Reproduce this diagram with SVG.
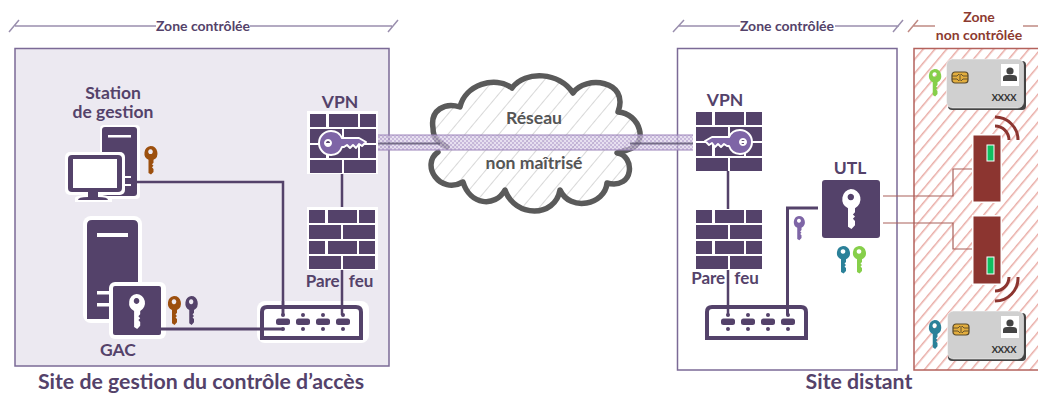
<svg xmlns="http://www.w3.org/2000/svg" width="1038" height="394" viewBox="0 0 1038 394">
<style>
text{font-family:"Lato","Open Sans","Liberation Sans",sans-serif;font-weight:700;text-anchor:middle}
.p{fill:#54426a}
.t16{font-size:17.500px;fill:#54426a}
.pf{font-size:17px;fill:#54426a;word-spacing:5px}
.t13{font-size:14px;fill:#54426a}
.t19{font-size:21.300px;fill:#54426a}
.r13{font-size:14px;fill:#8c3a30}
.g16{font-size:17.600px;fill:#555}
.zl{stroke:#9a8fae;stroke-width:1.500;fill:none}
.zr{stroke:#c08a84;stroke-width:1.500;fill:none}
.conn{stroke:#54426a;stroke-width:2.500;fill:none}
.thick{stroke:#54426a;stroke-width:3;fill:none}
.red{stroke:#a9605a;stroke-width:1.200;fill:none}
.arc{stroke:#8c3530;stroke-width:3;fill:none}
.card{font-size:9.500px;font-weight:400;fill:#222;stroke:#222;stroke-width:.2}
.brown{fill:#9c4f0e}.dk{fill:#54426a}.lav{fill:#7e65a6}.teal{fill:#2b8199}.green{fill:#86cf4a}
</style>
<defs>
<path id="key" fill-rule="evenodd" d="M7 0A7 7 0 0 1 10 13.300V16L8.500 17.500 10 19 8.500 20.500 10 22V25L7.500 27.500 5 26V13.300A7 7 0 0 1 7 0ZM7 3.200a2.300 2.300 0 1 0 .01 0Z"/>
<path id="hkey" fill="#7e65a6" stroke="#fff" stroke-width="2" stroke-linejoin="round" fill-rule="evenodd" d="M0-12A12 12 0 0 1 11-5H28L35-1 31 3 28 1 25 5 22 2 19 5 16 2 13 4H11A12 12 0 0 1 0 12 12 12 0 0 1 0-12ZM-3-3a3 3 0 1 0 .01 0Z"/>
<pattern id="hatchR" width="9" height="9" patternUnits="userSpaceOnUse" patternTransform="rotate(-50)"><rect width="9" height="9" fill="#fff"/><rect width="9" height="1.500" fill="#e9aca6"/></pattern>
<pattern id="hatchG" width="13" height="13" patternUnits="userSpaceOnUse" patternTransform="rotate(-50)"><rect width="13" height="13" fill="#fff"/><rect width="13" height="1" fill="#d8d8d8"/></pattern>
<pattern id="dots" width="4" height="4" patternUnits="userSpaceOnUse"><rect width="4" height="4" fill="#b09bcb"/><circle cx="1" cy="1" r="1" fill="#ece6f3"/><circle cx="3" cy="3" r="1" fill="#ece6f3"/></pattern>
<g id="router"><path d="M2 33V7Q2 2 7 2H96Q101 2 101 7V33Z" fill="#fff" stroke="#54426a" stroke-width="4"/>
<g class="p"><rect x="16" y="13.500" width="14" height="6.500" rx="2.500"/><rect x="36" y="13.500" width="14" height="6.500" rx="2.500"/><rect x="56" y="13.500" width="14" height="6.500" rx="2.500"/><rect x="76" y="13.500" width="14" height="6.500" rx="2.500"/>
<circle cx="23" cy="10" r="2"/><circle cx="43" cy="10" r="2"/><circle cx="63" cy="10" r="2"/><circle cx="83" cy="10" r="2"/><circle cx="23" cy="24" r="2"/><circle cx="43" cy="24" r="2"/><circle cx="63" cy="24" r="2"/><circle cx="83" cy="24" r="2"/></g></g>
<g id="wall" class="p"><rect x="0" y="0" width="16" height="13"/><rect x="19" y="0" width="29" height="13"/><rect x="50" y="0" width="16" height="13"/><rect x="0" y="15" width="32" height="14"/><rect x="34" y="15" width="32" height="14"/><rect x="0" y="31" width="16" height="13"/><rect x="19" y="31" width="29" height="13"/><rect x="50" y="31" width="16" height="13"/><rect x="0" y="46" width="32" height="13"/><rect x="34" y="46" width="32" height="13"/></g>
<g id="user" fill="#444"><circle cx="0" cy="-4" r="3.600"/><path d="M-7 6V3Q-7 0-3 0H3Q7 0 7 3V6Z"/></g>
<g id="chip"><rect width="16" height="11" rx="3" fill="#e3ae3e" stroke="#5a4a2a" stroke-width="1.200"/><path d="M0 4H5L7 2M0 7H5L7 9M16 4H11L9 2M16 7H11L9 9M8 2V9" stroke="#5a4a2a" stroke-width=".9" fill="none"/></g>
</defs>

<g id="zones">
<rect x="15" y="48.500" width="374" height="317.500" fill="#ece9f1" stroke="#7b6a96" stroke-width="1.500"/>
<rect x="677.500" y="48.500" width="219.500" height="321.500" fill="#fff" stroke="#7b6a96" stroke-width="1.500"/>
<rect x="914" y="48.500" width="130" height="321.500" fill="url(#hatchR)" stroke="#b4625c" stroke-width="1.500"/>
<path class="zl" d="M9 32 19 20M15 26H156M250 26H392M388 32 398 20"/>
<path class="zl" d="M673 32 684 20M678 26H740M835 26H899M893 32 903 20"/>
<path class="zr" d="M908 32 918 20M913 26H935M1023 26H1038"/>
<text class="t13" x="203" y="31">Zone contrôlée</text>
<text class="t13" x="787" y="31">Zone contrôlée</text>
<text class="r13" x="979" y="22">Zone</text>
<text class="r13" x="979" y="40">non contrôlée</text>
<text class="t19" x="201" y="389">Site de gestion du contrôle d’accès</text>
<text class="t19" x="859" y="389">Site distant</text>
</g>

<g id="cloud">
<path fill="url(#hatchG)" stroke="#5a5a5a" stroke-width="5.500" stroke-linejoin="round" stroke-linecap="round" d="M447 147C440 143 433 140 433 128 430 110 445 102 460 107 465 85 495 75 512 88 525 70 560 72 573 93 585 75 630 80 618 112 640 113 650 145 627 150L617 153C635 155 635 190 607 183 605 205 570 212 560 190 555 218 515 218 505 190 495 208 470 205 463 182 440 195 420 165 438 152"/>
<text class="g16" x="534" y="124">Réseau</text>
<text class="g16" x="534" y="169">non maîtrisé</text>
</g>

<g id="connectors">
<path class="conn" d="M342 174V207M342 270V315"/>
<path class="conn" d="M728 171V209M728 270V315"/>
<path class="thick" d="M818 208H787.500V315"/>
<path class="red" d="M883 196H953V169H973"/>
<path class="red" d="M883 223H953V249H973"/>
<g id="tunnel">
<rect x="378" y="135" width="315" height="15" fill="url(#dots)" opacity=".7"/>
<path d="M378 135H693M378 150H693" stroke="#9a82b8" stroke-width="1"/>
<path d="M378 143.500H440M630 143.500H693" stroke="#5d5670" stroke-width="2" opacity=".8"/>
</g>
</g>

<g id="station">
<text class="t16" x="113" y="99">Station</text>
<text class="t16" x="113" y="118">de gestion</text>
<rect x="100" y="125" width="40" height="74" rx="4" fill="#fff"/>
<rect x="102" y="127" width="35" height="69" rx="3" class="p"/>
<rect x="108" y="135" width="23" height="2.500" fill="#fff"/>
<rect x="123" y="176" width="8" height="2" fill="#fff"/><rect x="123" y="184" width="8" height="2" fill="#fff"/>
<rect x="65" y="152" width="60" height="43" rx="5" fill="#fff"/>
<rect x="68" y="155" width="54" height="37" rx="4" class="p"/>
<rect x="73" y="159" width="44" height="29" fill="#fff"/>
<path d="M75 202V198Q75 196 85 195V193H100V195Q112 196 112 198V202Z" fill="#fff"/>
<path class="p" d="M78 200Q78 197 88 197V192H98V197Q108 197 108 200Z"/>
<use href="#key" class="brown" transform="translate(143.500 146) scale(1 1.040)"/>
</g>

<g id="gac">
<rect x="83" y="216" width="59" height="107" rx="8" fill="#fff"/>
<path class="p" d="M87 319V225Q87 220 92 220H133Q138 220 138 225V319Z"/>
<rect x="97" y="233" width="31" height="4" fill="#fff"/>
<rect x="97" y="291" width="12" height="3.500" fill="#fff"/><rect x="97" y="303" width="12" height="3.500" fill="#fff"/>
<rect x="109" y="282" width="57" height="57" rx="6" fill="#fff"/>
<rect x="113" y="286" width="48" height="49" rx="2" class="p"/>
<use href="#key" fill="#fff" transform="translate(128 294) scale(1.220 1.270)"/>
<use href="#key" class="brown" transform="translate(167 296) scale(1 1.050)"/>
<use href="#key" class="dk" transform="translate(184.500 296) scale(.95 1.050)"/>
<text class="t16" x="118" y="356">GAC</text>
</g>

<g id="vpn-left">
<rect x="307" y="111" width="71" height="63" fill="#fff"/>
<use href="#wall" transform="translate(310 114)"/>
<use href="#hkey" transform="translate(331 143)"/>
<text class="t16" x="340" y="108">VPN</text>
</g>
<g id="parefeu-left">
<rect x="307" y="207" width="71" height="63" fill="#fff"/>
<use href="#wall" transform="translate(309 210)"/>
<text class="pf" x="339.500" y="287">Pare feu</text>
</g>
<g id="router-left">
<rect x="257" y="301" width="112" height="42" rx="8" fill="#fff"/>
<use href="#router" transform="translate(260 305)"/>
<path class="conn" d="M283 301V315M342 301V315"/>
</g>

<g id="vpn-right">
<use href="#wall" transform="translate(696 112)"/>
<use href="#hkey" transform="translate(740 142) scale(-1 1)"/>
<text class="t16" x="725" y="106">VPN</text>
</g>
<g id="parefeu-right">
<use href="#wall" transform="translate(696 210)"/>
<text class="pf" x="725" y="284">Pare feu</text>
</g>
<g id="router-right">
<use href="#router" transform="translate(705 305)"/>
<path class="conn" d="M728 305V315"/>
<path class="thick" d="M787.500 305V315"/>
</g>
<g id="utl">
<rect x="822" y="180" width="58" height="58" rx="3" class="p"/>
<use href="#key" fill="#fff" transform="translate(841 189) scale(1.400 1.450)"/>
<use href="#key" class="lav" transform="translate(793 216) scale(.85 .88)"/>
<use href="#key" class="teal" transform="translate(836 246) scale(1 1)"/>
<use href="#key" class="green" transform="translate(852 246) scale(1 1)"/>
<text class="t16" x="850" y="174">UTL</text>
</g>

<g id="links-over">
<path class="conn" d="M137 182H283V315"/>
<path class="thick" d="M161 329H283"/>
</g>

<g id="badge-top">
<rect x="972" y="134" width="30" height="69" fill="#fff"/>
<rect x="973.500" y="135.500" width="27" height="66" fill="#8c3530"/>
<rect x="987" y="145" width="7" height="16" fill="#10c060" stroke="#fff" stroke-width="1"/>
<path class="arc" d="M995 117A23 23 0 0 1 1018 140"/>
<path class="arc" d="M995 126A14 14 0 0 1 1009 140"/>
</g>
<g id="badge-bottom">
<rect x="972" y="215" width="30" height="70" fill="#fff"/>
<rect x="973.500" y="216.500" width="27" height="67" fill="#8c3530"/>
<rect x="987" y="257" width="7" height="17" fill="#10c060" stroke="#fff" stroke-width="1"/>
<path class="arc" d="M1018 277A23 23 0 0 1 995 301"/>
<path class="arc" d="M1009 277A14 14 0 0 1 995 291"/>
</g>
<g id="card-top">
<rect x="948" y="61" width="78" height="49" rx="4" fill="#444"/>
<rect x="946.500" y="59" width="77" height="49" rx="6" fill="#d0d0d0" stroke="#fff" stroke-opacity=".5" stroke-width="1"/>
<use href="#chip" transform="translate(952 72)"/>
<rect x="1001" y="64" width="18" height="22" fill="#fff"/>
<use href="#user" transform="translate(1010 75)"/>
<text class="card" x="1004" y="101">XXXX</text>
<use href="#key" class="green" transform="translate(928 69) scale(.95 1)"/>
</g>
<g id="card-bottom">
<rect x="948" y="313" width="78" height="48" rx="4" fill="#444"/>
<rect x="947.500" y="311" width="76" height="48" rx="6" fill="#d0d0d0" stroke="#fff" stroke-opacity=".5" stroke-width="1"/>
<use href="#chip" transform="translate(953 324)"/>
<rect x="1001" y="316" width="18" height="22" fill="#fff"/>
<use href="#user" transform="translate(1010 327)"/>
<text class="card" x="1004" y="353">XXXX</text>
<use href="#key" class="teal" transform="translate(928 320) scale(.95 1.050)"/>
</g>
</svg>
